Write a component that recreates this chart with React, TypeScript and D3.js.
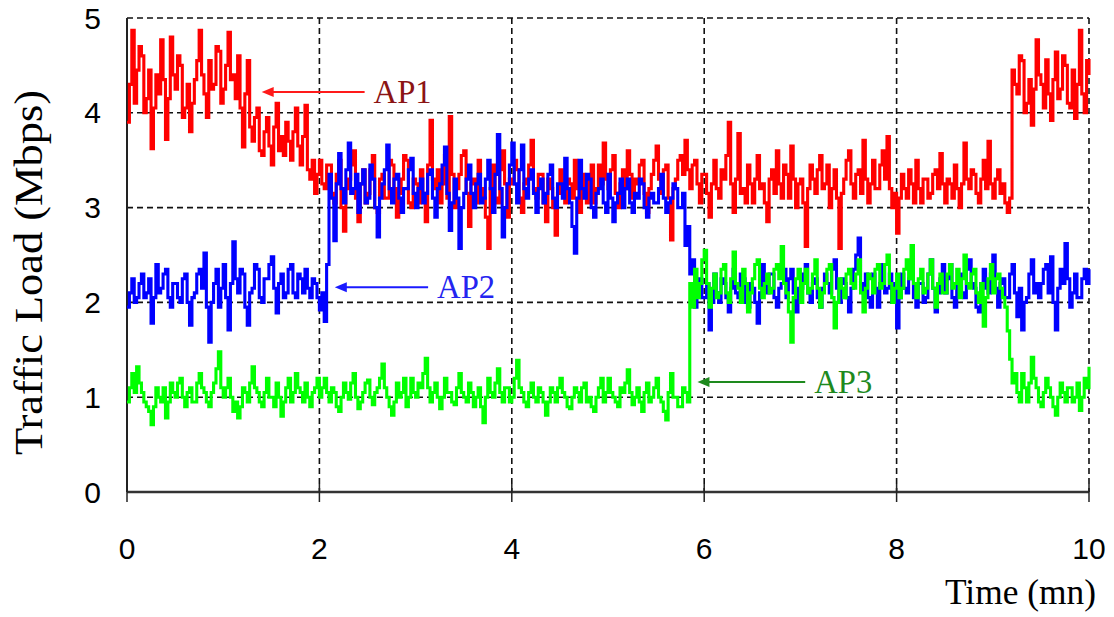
import React from "react";
import * as d3 from "d3";

// Time axis: samples every 0.025 mn from 0 to 10
const T_STEP = 0.025;

const ap1Values = [
  3.90, 4.30, 4.87, 4.10, 4.45, 4.70, 4.60, 4.00, 4.15, 4.45, 3.62, 4.05, 4.40, 4.20, 4.77, 4.35, 3.72, 4.15, 4.80, 4.40,
  4.25, 4.60, 4.50, 3.95, 4.05, 4.30, 3.80, 4.10, 4.35, 4.55, 4.87, 4.40, 4.20, 3.95, 4.55, 4.25, 4.30, 4.70, 4.65, 4.10,
  4.25, 4.50, 4.85, 4.35, 4.40, 4.15, 4.60, 4.05, 3.64, 4.20, 4.55, 3.85, 3.70, 3.95, 4.05, 3.60, 3.55, 3.80, 3.95, 3.65,
  3.45, 3.85, 4.10, 3.60, 3.75, 3.55, 3.90, 3.70, 3.50, 3.80, 4.05, 3.65, 3.45, 3.75, 4.08, 3.40, 3.30, 3.50, 3.15, 3.35,
  3.50, 3.25, 3.20, 3.45, 3.45, 3.15, 3.05, 3.35, 3.50, 3.00, 2.75, 3.20, 3.30, 3.45, 3.60, 3.10, 2.85, 3.25, 3.40, 3.05,
  3.15, 3.40, 3.55, 3.00, 2.95, 3.30, 3.35, 3.10, 3.10, 3.50, 3.45, 3.20, 2.90, 3.15, 3.30, 3.55, 3.50, 3.05, 3.00, 3.30,
  3.25, 3.05, 3.40, 3.15, 2.85, 3.45, 3.92, 3.30, 3.20, 3.40, 3.05, 3.25, 3.55, 3.10, 3.96, 3.35, 3.00, 3.20, 3.35, 3.55,
  3.60, 3.15, 2.80, 3.25, 3.30, 3.05, 3.50, 3.20, 3.10, 2.90, 2.57, 3.20, 3.45, 3.10, 3.05, 3.40, 3.60, 3.25, 2.90, 3.30,
  3.25, 3.50, 3.40, 3.10, 2.95, 3.25, 3.30, 3.45, 3.71, 3.20, 3.10, 3.35, 3.35, 3.05, 2.85, 3.30, 3.20, 3.00, 2.71, 3.15,
  3.40, 3.15, 3.05, 3.30, 3.25, 3.10, 3.50, 3.20, 2.95, 3.35, 3.15, 3.05, 3.30, 3.45, 3.05, 3.20, 3.45, 3.25, 3.68, 3.30,
  3.20, 3.40, 3.55, 3.15, 3.00, 3.25, 3.40, 3.20, 3.60, 3.35, 3.10, 3.30, 3.25, 3.45, 3.50, 3.15, 2.95, 3.20, 3.35, 3.50,
  3.65, 3.30, 3.15, 3.40, 3.45, 3.10, 2.66, 3.20, 3.30, 3.50, 3.55, 3.35, 3.71, 3.40, 3.20, 3.45, 3.50, 3.25, 3.05, 3.35,
  3.35, 3.15, 2.90, 3.25, 3.50, 3.20, 3.10, 3.40, 3.30, 3.55, 3.90, 3.25, 2.95, 3.30, 3.78, 3.15, 3.20, 3.05, 3.45, 3.25,
  3.05, 3.30, 3.55, 3.20, 3.25, 3.05, 2.85, 3.30, 3.40, 3.15, 3.60, 3.25, 3.10, 3.45, 3.35, 3.10, 3.65, 3.30, 3.00, 3.25,
  3.30, 3.05, 2.59, 3.20, 3.45, 3.30, 3.15, 3.40, 3.55, 3.20, 3.25, 3.45, 3.00, 3.20, 3.40, 3.10, 2.57, 3.15, 3.30, 3.50,
  3.60, 3.25, 3.10, 3.35, 3.40, 3.15, 3.71, 3.30, 3.05, 3.25, 3.50, 3.20, 3.20, 3.45, 3.60, 3.30, 3.75, 3.20, 3.00, 3.15,
  2.73, 3.10, 3.35, 3.20, 3.10, 3.40, 3.25, 3.05, 3.50, 3.20, 3.05, 3.30, 3.30, 3.10, 3.15, 3.35, 3.40, 3.20, 3.57, 3.25,
  3.05, 3.30, 3.25, 3.10, 3.45, 3.20, 3.00, 3.25, 3.68, 3.30, 3.20, 3.40, 3.35, 3.15, 3.05, 3.30, 3.50, 3.20, 3.70, 3.25,
  3.10, 3.30, 3.40, 3.15, 3.25, 3.05, 2.95, 3.10, 4.45, 4.30, 4.20, 4.60, 4.55, 4.00, 4.10, 4.35, 3.87, 4.25, 4.77, 4.40,
  4.30, 4.05, 4.56, 4.20, 3.92, 4.35, 4.64, 4.15, 4.25, 4.60, 4.50, 4.10, 4.05, 4.45, 3.94, 4.30, 4.87, 4.20, 4.00, 4.55,
  4.40,
];

const ap2Values = [
  1.95, 2.10, 2.25, 2.00, 2.05, 2.20, 2.30, 2.05, 2.10, 2.25, 1.78, 2.05, 2.40, 2.10, 2.15, 2.30, 2.35, 2.05, 1.95, 2.20,
  2.20, 2.05, 2.00, 2.25, 2.30, 2.00, 1.76, 2.05, 2.10, 2.30, 2.35, 2.15, 2.52, 1.95, 1.58, 2.00, 2.20, 2.35, 1.95, 2.15,
  2.40, 2.05, 1.71, 2.20, 2.64, 2.25, 2.10, 2.35, 2.30, 1.95, 1.76, 2.10, 2.15, 2.40, 2.35, 2.05, 2.00, 2.25, 2.25, 2.40,
  2.48, 2.15, 1.89, 2.20, 2.30, 2.05, 2.10, 2.35, 2.40, 2.10, 2.05, 2.30, 2.25, 2.10, 2.35, 2.15, 2.05, 2.25, 2.20, 2.05,
  1.92, 2.10, 1.80, 2.40, 3.35, 3.10, 2.65, 3.25, 3.57, 3.20, 3.05, 3.40, 3.68, 3.15, 3.20, 3.35, 2.95, 3.25, 3.40, 3.05,
  3.10, 3.45, 3.30, 3.00, 2.69, 3.10, 3.25, 3.40, 3.66, 3.20, 3.05, 3.30, 3.35, 3.10, 2.95, 3.20, 3.20, 3.40, 3.52, 3.15,
  3.00, 3.20, 3.30, 3.05, 3.15, 3.35, 3.40, 3.10, 2.90, 3.20, 3.25, 3.45, 3.64, 3.15, 2.76, 3.05, 3.30, 3.10, 2.57, 3.00,
  3.15, 3.30, 3.45, 3.15, 3.00, 3.25, 3.35, 3.05, 3.10, 3.30, 3.50, 3.20, 2.95, 3.35, 3.77, 3.20, 2.69, 3.00, 3.25, 3.45,
  3.68, 3.25, 3.05, 3.40, 3.66, 3.20, 3.10, 3.30, 3.40, 3.15, 2.95, 3.20, 3.30, 3.05, 3.15, 3.35, 3.45, 3.10, 3.00, 3.25,
  3.25, 3.10, 3.52, 3.20, 3.05, 2.80, 2.52, 3.10, 3.50, 3.20, 3.10, 3.35, 3.30, 3.00, 2.90, 3.15, 3.20, 3.30, 3.05, 2.95,
  3.35, 3.10, 2.85, 3.05, 3.15, 3.30, 3.00, 3.20, 3.30, 3.05, 2.95, 3.15, 3.10, 3.30, 3.25, 3.00, 2.90, 3.10, 3.15, 3.05,
  3.05, 3.20, 3.35, 3.10, 2.95, 3.05, 3.10, 3.25, 3.20, 3.00, 3.00, 3.15, 2.60, 2.80, 2.30, 2.45, 1.95, 2.20, 2.25, 2.05,
  2.05, 2.20, 1.71, 2.00, 2.30, 2.10, 2.00, 2.25, 2.20, 2.05, 1.90, 2.15, 2.35, 2.10, 2.05, 2.30, 2.25, 2.00, 1.95, 2.20,
  2.15, 2.00, 1.78, 2.10, 2.40, 2.20, 2.10, 2.30, 2.30, 2.05, 1.95, 2.15, 2.20, 2.35, 2.05, 2.25, 2.35, 2.10, 1.90, 2.15,
  2.15, 2.30, 2.40, 2.10, 2.00, 2.20, 2.25, 2.05, 1.95, 2.15, 2.30, 2.20, 2.10, 2.35, 2.45, 2.15, 2.00, 2.25, 2.20, 2.05,
  1.90, 2.15, 2.35, 2.50, 2.68, 2.20, 2.10, 2.30, 2.05, 1.95, 2.30, 2.15, 1.95, 2.20, 2.40, 2.10, 2.15, 2.30, 2.00, 2.20,
  1.73, 2.05, 2.30, 2.15, 2.10, 2.25, 2.35, 2.05, 1.95, 2.20, 2.20, 2.00, 2.05, 2.30, 2.45, 2.15, 1.90, 2.10, 2.25, 2.40,
  2.10, 2.25, 2.40, 2.05, 1.95, 2.20, 2.30, 2.10, 2.05, 2.35, 2.45, 2.20, 2.15, 1.95, 1.90, 2.20, 2.35, 2.15, 2.10, 2.30,
  2.50, 2.15, 1.95, 2.20, 2.25, 2.05, 2.05, 2.30, 2.40, 2.10, 1.85, 2.15, 1.71, 2.00, 2.05, 2.30, 2.45, 2.10, 2.20, 2.05,
  2.20, 2.35, 2.40, 2.10, 2.48, 2.00, 1.71, 2.15, 2.35, 2.20, 2.62, 2.25, 1.95, 2.10, 2.30, 2.05, 2.05, 2.25, 2.35, 2.20,
  2.35,
];

const ap3Values = [
  0.95, 1.10, 1.25, 1.05, 1.32, 1.15, 1.05, 0.95, 0.90, 0.85, 0.71, 0.90, 1.10, 1.00, 0.95, 1.10, 0.78, 0.95, 1.15, 1.05,
  1.00, 1.15, 1.20, 1.00, 0.90, 1.05, 1.10, 0.95, 0.95, 1.15, 1.25, 1.10, 1.05, 0.95, 0.90, 1.05, 1.15, 1.30, 1.48, 1.10,
  1.00, 1.10, 1.20, 1.00, 0.85, 0.95, 0.78, 0.90, 1.10, 1.05, 0.95, 1.15, 1.32, 1.10, 1.05, 0.95, 0.90, 1.05, 1.20, 1.00,
  1.00, 0.90, 1.15, 1.00, 0.80, 0.95, 1.10, 1.20, 0.95, 1.05, 1.25, 1.10, 1.05, 0.95, 1.15, 1.00, 0.90, 1.05, 1.10, 1.20,
  1.00, 1.10, 1.20, 1.05, 0.95, 1.10, 1.05, 0.90, 0.85, 1.00, 1.15, 1.05, 0.98, 1.15, 1.25, 1.00, 0.88, 0.95, 1.05, 1.15,
  1.18, 1.00, 0.92, 1.05, 1.10, 1.20, 1.35, 1.10, 1.00, 0.90, 0.81, 0.95, 1.15, 1.00, 1.05, 1.20, 0.90, 1.00, 1.20, 1.05,
  1.00, 1.15, 1.10, 1.25, 1.41, 1.10, 0.95, 1.05, 1.15, 1.00, 0.88, 1.00, 1.20, 1.05, 1.05, 0.95, 0.92, 1.10, 1.25, 1.05,
  1.00, 0.95, 1.15, 1.05, 0.90, 1.00, 1.10, 0.90, 0.73, 1.00, 1.20, 1.05, 1.00, 1.15, 1.30, 1.05, 0.95, 1.10, 1.10, 0.95,
  1.00, 1.20, 1.39, 1.10, 1.05, 0.95, 0.90, 1.05, 1.15, 1.00, 0.95, 1.10, 1.05, 0.95, 0.81, 0.95, 1.10, 1.05, 0.95, 1.10,
  1.20, 1.05, 1.00, 0.90, 0.88, 1.00, 1.10, 1.05, 0.95, 1.10, 1.15, 0.95, 1.00, 0.90, 0.85, 1.00, 1.10, 1.20, 0.95, 1.05,
  1.20, 1.05, 1.00, 0.95, 0.90, 1.10, 1.05, 1.15, 1.29, 1.05, 0.92, 1.00, 1.10, 0.95, 0.85, 1.05, 1.15, 0.95, 1.00, 1.10,
  1.20, 1.00, 0.95, 0.85, 0.76, 1.05, 1.25, 1.00, 1.00, 0.90, 0.90, 1.10, 1.05, 0.95, 2.20, 1.95, 2.35, 2.05, 2.20, 2.45,
  2.55, 2.20, 1.95, 2.15, 2.30, 2.05, 2.10, 2.35, 2.40, 2.10, 2.00, 2.25, 2.53, 2.20, 2.15, 2.00, 2.35, 2.20, 1.90, 2.10,
  2.25, 2.40, 2.45, 2.15, 2.05, 2.20, 2.30, 2.10, 2.15, 2.35, 2.40, 2.25, 2.59, 2.20, 2.10, 1.90, 1.58, 2.05, 2.25, 2.35,
  2.00, 2.20, 2.35, 2.10, 2.15, 2.30, 2.45, 2.15, 1.95, 2.10, 2.20, 2.35, 2.40, 2.05, 1.73, 2.00, 2.25, 2.15, 2.05, 2.30,
  2.35, 2.20, 2.15, 2.30, 2.45, 2.10, 1.90, 2.15, 2.30, 2.25, 2.10, 2.35, 2.40, 2.15, 2.20, 2.40, 2.50, 2.20, 2.00, 2.15,
  2.30, 2.05, 2.15, 2.35, 2.45, 2.25, 2.60, 2.20, 2.05, 2.25, 2.35, 2.10, 2.15, 2.30, 2.45, 2.15, 1.95, 2.20, 2.30, 2.10,
  2.10, 2.30, 2.40, 2.15, 2.20, 2.35, 2.05, 2.25, 2.50, 2.20, 2.15, 2.30, 2.35, 2.10, 2.00, 2.20, 1.75, 2.05, 2.25, 2.40,
  2.10, 2.25, 2.30, 2.15, 2.05, 1.95, 1.70, 1.40, 1.15, 1.25, 1.05, 0.95, 1.25, 1.10, 0.95, 1.15, 1.42, 1.20, 1.10, 0.95,
  0.90, 1.05, 1.20, 1.10, 1.00, 0.90, 0.81, 1.00, 1.15, 1.05, 0.95, 1.10, 1.10, 0.95, 1.00, 1.15, 0.86, 1.00, 1.20, 1.10,
  1.32,
];

const xTicks = [0, 2, 4, 6, 8, 10];
const yTicks = [0, 1, 2, 3, 4, 5];

const seriesNames = ["AP1", "AP2", "AP3"];
const seriesColors = ["#ff0000", "#0000ff", "#00ff00"];
const labelColors = ["#8b1414", "#2424f0", "#1e8a1e"];
const arrowColors = ["#ff1a1a", "#1a1aff", "#1e8a1e"];
// annotation arrows in data units: head time, tail time, level
const arrowHeadT = [1.4, 2.16, 5.93];
const arrowTailT = [2.47, 3.13, 7.05];
const arrowValue = [4.22, 2.16, 1.16];

const W = 1114;
const H = 617;
const M = { left: 127, right: 25, top: 18, bottom: 125 };

export default function App() {
  const x = d3.scaleLinear().domain([0, 10]).range([M.left, W - M.right]);
  const y = d3.scaleLinear().domain([0, 5]).range([H - M.bottom, M.top]);
  const allSeries = [ap1Values, ap2Values, ap3Values];

  const line = d3
    .line<number>()
    .x((_, i) => x(i * T_STEP))
    .y((d) => y(d))
    .curve(d3.curveStepAfter);

  const x0 = x(0), x1 = x(10), y0 = y(0), y1 = y(5);

  return (
    <svg
      width={W}
      height={H}
      style={{ position: "absolute", left: 0, top: 0, background: "#fff" }}
    >
      {/* grid */}
      <g stroke="#111" strokeWidth={1.6} strokeDasharray="6,4" fill="none">
        {yTicks.filter((v) => v > 0).map((v) => (
          <line key={"gy" + v} x1={x0} x2={x1} y1={y(v)} y2={y(v)} />
        ))}
        {xTicks.filter((v) => v > 0).map((v) => (
          <line key={"gx" + v} x1={x(v)} x2={x(v)} y1={y1} y2={y0} />
        ))}
      </g>
      {/* axes */}
      <line x1={x0} x2={x0} y1={y1} y2={y0} stroke="#222" strokeWidth={2} />
      <line x1={x0} x2={x1} y1={y0} y2={y0} stroke="#333" strokeWidth={2.5} />
      {xTicks.map((v) => (
        <line key={"tx" + v} x1={x(v)} x2={x(v)} y1={y0 - 8} y2={y0 + 10} stroke="#222" strokeWidth={1.5} />
      ))}
      {/* series */}
      {allSeries.map((vals, k) => (
        <path
          key={seriesNames[k]}
          d={line(vals) || ""}
          fill="none"
          stroke={seriesColors[k]}
          strokeWidth={3.1}
          strokeLinejoin="miter"
        />
      ))}
      {/* tick labels */}
      <g fontFamily="'Liberation Sans', Arial, sans-serif" fontSize={30} fill="#000">
        {yTicks.map((v) => (
          <text key={"ly" + v} x={x0 - 26} y={y(v)} textAnchor="end" dominantBaseline="central">
            {v}
          </text>
        ))}
        {xTicks.map((v) => (
          <text key={"lx" + v} x={x(v)} y={559} textAnchor="middle">
            {v}
          </text>
        ))}
      </g>
      {/* axis titles */}
      <text
        transform={`translate(42, ${(90 + 455) / 2}) rotate(-90)`}
        textAnchor="middle"
        fontFamily="'Liberation Serif', 'Times New Roman', serif"
        fontSize={40}
        textLength={365}
        lengthAdjust="spacingAndGlyphs"
        fill="#000"
      >
        Traffic Load (Mbps)
      </text>
      <text
        x={945}
        y={604}
        fontFamily="'Liberation Serif', 'Times New Roman', serif"
        fontSize={36}
        textLength={151}
        lengthAdjust="spacingAndGlyphs"
        fill="#000"
      >
        Time (mn)
      </text>
      {/* annotations */}
      {seriesNames.map((name, k) => {
        const hx = x(arrowHeadT[k]);
        const tx = x(arrowTailT[k]);
        const ay = y(arrowValue[k]);
        return (
          <g key={"ann" + name}>
            <line x1={hx + 8} x2={tx} y1={ay} y2={ay} stroke={arrowColors[k]} strokeWidth={2} />
            <polygon
              points={`${hx},${ay} ${hx + 12},${ay - 5} ${hx + 12},${ay + 5}`}
              fill={arrowColors[k]}
            />
            <text
              x={tx + 9}
              y={ay + 11}
              fontFamily="'Liberation Serif', 'Times New Roman', serif"
              fontSize={33}
              textLength={58}
              lengthAdjust="spacingAndGlyphs"
              fill={labelColors[k]}
            >
              {name}
            </text>
          </g>
        );
      })}
    </svg>
  );
}
